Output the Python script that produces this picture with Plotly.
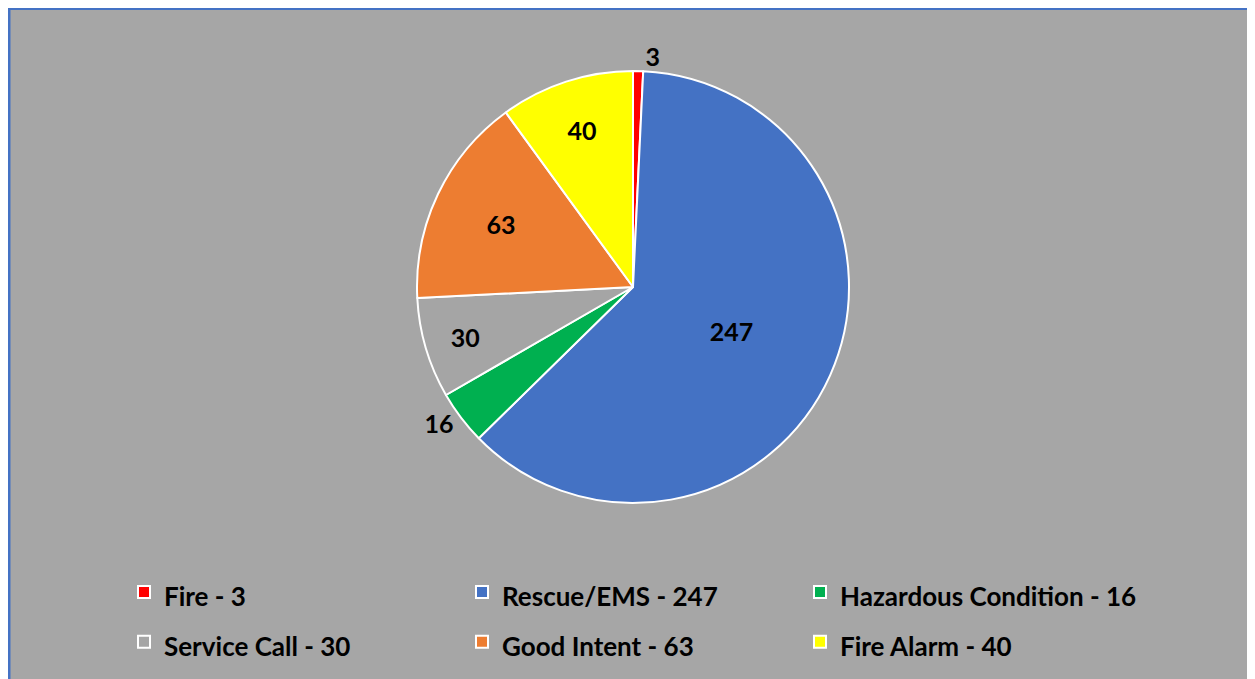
import plotly.graph_objects as go

categories = ["Fire", "Rescue/EMS", "Hazardous Condition", "Service Call", "Good Intent", "Fire Alarm"]
values = [3, 247, 16, 30, 63, 40]
colors = ["#ff0000", "#4472c4", "#00b050", "#a5a5a5", "#ed7d31", "#ffff00"]
text_positions = ["outside", "inside", "outside", "inside", "inside", "inside"]

W, H = 1255, 679
L, R, T, B = 0, 5, 63, 184
FONT = "Lato"
BG = "#a6a6a6"
BORDER = "#4472c4"

legend_labels = [f"<span style='font-size:26px'>{c} - {v}</span>" for c, v in zip(categories, values)]

fig = go.Figure()
fig.add_trace(go.Pie(
    labels=legend_labels,
    values=values,
    text=[str(v) for v in values],
    textinfo="text",
    textposition=text_positions,
    insidetextorientation="horizontal",
    sort=False,
    direction="clockwise",
    rotation=0,
    marker=dict(colors=colors, line=dict(color="white", width=2)),
    textfont=dict(family=FONT, size=25, color="black", weight="bold"),
    hoverinfo="value+percent",
))

pw = W - L - R
ph = H - T - B
def px_x(x):
    return (x - L) / pw
def px_y(y):
    return 1 - (y - T) / ph

# left and top border of the chart area
fig.add_shape(type="line", xref="paper", yref="paper",
              x0=px_x(1), x1=px_x(1), y0=px_y(0), y1=px_y(H + 20),
              line=dict(color=BORDER, width=3), layer="below")
fig.add_shape(type="line", xref="paper", yref="paper",
              x0=px_x(0), x1=px_x(W + 20), y0=px_y(0.5), y1=px_y(0.5),
              line=dict(color=BORDER, width=3), layer="below")

fig.update_layout(
    width=W, height=H,
    margin=dict(l=L, r=R, t=T, b=B, autoexpand=False),
    paper_bgcolor=BG,
    plot_bgcolor=BG,
    showlegend=True,
    legend=dict(
        orientation="h",
        xref="container", yref="container",
        x=116 / W, y=1 - 554 / H,
        xanchor="left", yanchor="top",
        entrywidth=293, entrywidthmode="pixels",
        font=dict(family=FONT, size=36, color="black", weight="bold"),
        bgcolor="rgba(0,0,0,0)",
        traceorder="normal",
    ),
)

fig.write_html("out.html")
